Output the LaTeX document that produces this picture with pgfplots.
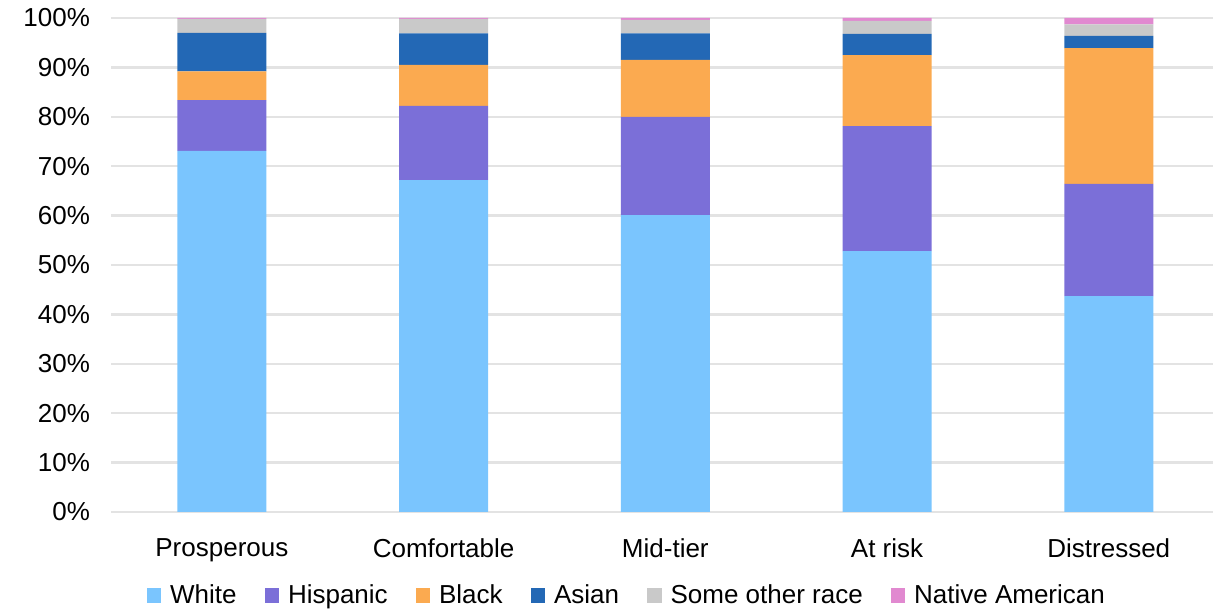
\documentclass[border=0pt]{standalone}
\usepackage{pgfplots}
\pgfplotsset{compat=1.18}
\usepackage{fontspec}
\setmainfont{Liberation Sans}
\usetikzlibrary{calc}
\definecolor{cWhite}{HTML}{7AC5FE}
\definecolor{cHisp}{HTML}{7B6FD8}
\definecolor{cBlack}{HTML}{FBAA50}
\definecolor{cAsian}{HTML}{2368B5}
\definecolor{cOther}{HTML}{C9C9C9}
\definecolor{cNative}{HTML}{E189D0}
\definecolor{cGrid}{HTML}{E3E3E3}
\begin{document}
\begin{tikzpicture}
\begin{axis}[
  name=ax,
  scale only axis,
  width=551pt, height=247pt,
  ybar stacked,
  bar width=44.5pt,
  xmin=-0.5, xmax=4.47,
  ymin=0, ymax=100,
  ytick={0,10,...,100},
  yticklabel={\pgfmathprintnumber{\tick}\%},
  /pgf/number format/assume math mode=true,
  xtick={0,1,2,3,4},
  xticklabels={Prosperous,Comfortable,Mid-tier,At risk,Distressed},
  axis line style={draw=none},
  tick style={draw=none},
  ymajorgrids,
  grid style={cGrid, line width=1.2pt},
  tick label style={font=\fontsize{13}{15}\selectfont},
  yticklabel style={xshift=-7pt},
  xticklabel style={yshift=-10pt},
  clip=false,
  legend columns=6,
  legend style={draw=none, at={(0.469,0)}, anchor=north, yshift=-34pt,
    font=\fontsize{13}{15}\selectfont,
    /tikz/every odd column/.append style={column sep=2.5pt},
    /tikz/every even column/.append style={column sep=12pt},
    inner sep=0pt},
  legend image code/.code={\fill[#1] (0pt,-3.6pt) rectangle (7.2pt,3.6pt);},
]
\addplot[fill=cWhite, draw=none] coordinates {(0,73.1) (1,67.2) (2,60.1) (3,52.8) (4,43.7)};
\addplot[fill=cHisp, draw=none] coordinates {(0,10.3) (1,15.0) (2,19.9) (3,25.3) (4,22.7)};
\addplot[fill=cBlack, draw=none] coordinates {(0,5.8) (1,8.3) (2,11.5) (3,14.4) (4,27.5)};
\addplot[fill=cAsian, draw=none] coordinates {(0,7.8) (1,6.4) (2,5.4) (3,4.3) (4,2.5)};
\addplot[fill=cOther, draw=none] coordinates {(0,2.8) (1,2.9) (2,2.7) (3,2.6) (4,2.3)};
\addplot[fill=cNative, draw=none] coordinates {(0,0.2) (1,0.2) (2,0.4) (3,0.6) (4,1.3)};
\legend{White,Hispanic,Black,Asian,Some other race,Native American}
\end{axis}
\pgfresetboundingbox
\path[use as bounding box] ($(ax.south west)+(-55.5pt,-49pt)$) rectangle ($(ax.north east)+(0pt,9pt)$);
\end{tikzpicture}
\end{document}
